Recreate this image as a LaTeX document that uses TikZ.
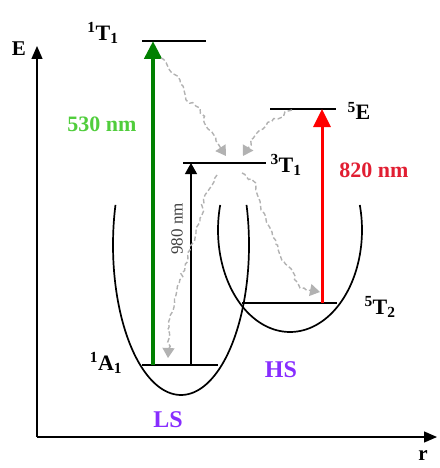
\documentclass[tikz,border=0pt]{standalone}
\usepackage{fontspec}
\setmainfont{Liberation Serif}
\usetikzlibrary{arrows.meta,decorations.pathmorphing}
\definecolor{pumpgreen}{RGB}{0,128,0}
\definecolor{lblgreen}{RGB}{80,205,60}
\definecolor{lblred}{RGB}{225,30,50}
\definecolor{spin}{RGB}{135,45,255}
\newcommand{\term}[3]{\textsuperscript{#1}#2\textsubscript{#3}}
\newcommand{\fs}[1]{\fontsize{#1}{#1}\selectfont}

\begin{document}
\begin{tikzpicture}[x=1pt,y=-1pt,line width=1pt,
  axis/.style={line width=1.3pt,-{Triangle[length=13pt,width=11pt]}},
  level/.style={line width=2.6pt},
  well/.style={line width=1.7pt},
  pump/.style={-{Triangle[length=18pt,width=17pt]}},
  relax/.style={draw=gray!60,line width=1.4pt,dash pattern=on 4.5pt off 2.5pt,
    decorate,decoration={random steps,segment length=4pt,amplitude=1.8pt,post length=9pt},
    -{Triangle[length=10pt,width=12pt]}},
  lbl/.style={font=\fs{22}\bfseries,inner sep=0pt}]
\useasboundingbox (0,0) rectangle (439,468);
% ---------- axes ----------
\coordinate (O) at (37,437);
\coordinate (Etop) at (37,46);
\coordinate (rend) at (437,437);
\draw[axis] (O) -- (Etop);
\draw[axis] (O) -- (rend);
\node[lbl,font=\fs{21}\bfseries] (Elbl) at (19,49) {E};
\node[lbl,font=\fs{21}\bfseries] (rlbl) at (423,456) {r};
% ---------- potential wells ----------
\draw[well] plot[domain=164.5:375.5,samples=90,smooth] ({181+68*cos(\x)},{245-150*sin(\x)});   % LS
\draw[well] plot[domain=165.8:374.2,samples=90,smooth] ({290+72*cos(\x)},{230-102*sin(\x)});   % HS
% ---------- levels ----------
\coordinate (A1l) at (142,365); \coordinate (A1r) at (218,365);
\coordinate (T1l) at (142,41);  \coordinate (T1r) at (206,41);
\coordinate (tTl) at (183,163); \coordinate (tTr) at (266,163);
\coordinate (fEl) at (270,109); \coordinate (fEr) at (336,109);
\coordinate (fTl) at (242,303); \coordinate (fTr) at (337,303);
\draw[level] (A1l) -- (A1r);
\draw[level] (T1l) -- (T1r);
\draw[level] (tTl) -- (tTr);
\draw[level] (fEl) -- (fEr);
\draw[level] (fTl) -- (fTr);
\node[lbl] (A1lbl) at (106,363) {\term{1}{A}{1}};
\node[lbl] (T1lbl) at (103,33) {\term{1}{T}{1}};
\node[lbl,anchor=west] (tTlbl) at (270,165) {\term{3}{T}{1}};
\node[lbl,anchor=west] (fElbl) at (347,111) {\textsuperscript{5}E};
\node[lbl,anchor=west] (fTlbl) at (364,307) {\term{5}{T}{2}};
\node[lbl,font=\fs{24}\bfseries,text=spin] (HS) at (281,370) {HS};
\node[lbl,font=\fs{24}\bfseries,text=spin] (LS) at (168,420) {LS};
% ---------- excitations ----------
\coordinate (gbot) at (153,365); \coordinate (gtop) at (153,41);
\coordinate (rbot) at (322,303); \coordinate (rtop) at (322,109);
\coordinate (kbot) at (191,365); \coordinate (ktop) at (191,163);
\draw[pump,pumpgreen,line width=4.5pt] (gbot) -- (gtop);
\draw[pump,red,line width=3pt] (rbot) -- (rtop);
\draw[line width=1.2pt,-{Triangle[length=11pt,width=12pt]}] (kbot) -- (ktop);
\node[lbl,text=lblgreen] (g530) at (102,124) {530 nm};
\node[lbl,text=lblred] (r820) at (374,170) {820 nm};
\node[inner sep=0pt,font=\fs{17},text=black!75,rotate=90] (k980) at (177,229) {980 nm};
% ---------- relaxation ----------
\coordinate (d1s) at (161,58);  \coordinate (d1e) at (226,156);
\coordinate (d2s) at (292,110); \coordinate (d2e) at (243,156);
\coordinate (d3s) at (217,175); \coordinate (d3e) at (168,358);
\coordinate (d4s) at (242,173); \coordinate (d4e) at (320,292);
\draw[relax] (d1s) -- (180,80) -- (186,100) -- (200,108) -- (206,126) -- (216,141) -- (d1e);
\draw[relax] (d2s) -- (272,121) -- (256,134) -- (d2e);
\draw[relax] (d3s) -- (205,195) -- (200,222) -- (190,250) -- (179,284) -- (170,318) -- (d3e);
\draw[relax] (d4s) -- (256,185) -- (261,210) -- (272,232) -- (280,255) -- (293,272) -- (300,288) -- (d4e);
\end{tikzpicture}
\end{document}
